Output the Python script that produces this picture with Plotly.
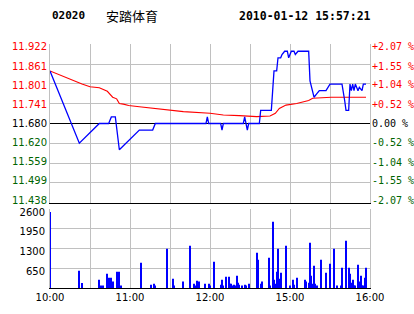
import plotly.graph_objects as go

# ---------------- data ----------------
stock_code = "02020"
stock_name = "安踏体育"
stamp = "2010-01-12 15:57:21"
prev_close = 11.68

price_ticks = [11.438, 11.499, 11.559, 11.620, 11.680, 11.741, 11.801, 11.861, 11.922]
pct_ticks = [-2.07, -1.55, -1.04, -0.52, 0.00, 0.52, 1.04, 1.55, 2.07]
vol_ticks = [650, 1300, 1950, 2600]
hour_labels = ["10:00", "11:00", "12:00", "15:00", "16:00"]

price_times = ["10:00", "10:22", "10:37", "10:44", "10:46", "10:49", "10:52", "11:07", "11:17", "11:19",
               "11:57", "11:58", "11:59", "12:08", "12:09", "12:10", "12:25", "12:26", "12:27", "12:28",
               "12:29", "14:37", "14:38", "14:46", "14:47", "14:48", "14:50", "14:51", "14:53", "14:54",
               "14:56", "14:58", "14:59", "15:01", "15:03", "15:04", "15:06", "15:14", "15:15", "15:18",
               "15:20", "15:22", "15:27", "15:30", "15:39", "15:40", "15:41", "15:42", "15:44", "15:45",
               "15:46", "15:47", "15:48", "15:49", "15:51", "15:52", "15:54", "15:55", "15:57"]
price_vals = [11.84, 11.62, 11.68, 11.68, 11.70, 11.70, 11.60, 11.66, 11.66, 11.68,
              11.68, 11.70, 11.68, 11.68, 11.66, 11.68, 11.68, 11.70, 11.68, 11.66,
              11.68, 11.68, 11.72, 11.72, 11.78, 11.84, 11.84, 11.88, 11.88, 11.89,
              11.90, 11.90, 11.88, 11.90, 11.90, 11.89, 11.90, 11.90, 11.81, 11.76,
              11.77, 11.78, 11.78, 11.80, 11.80, 11.78, 11.75, 11.72, 11.72, 11.80,
              11.78, 11.80, 11.78, 11.80, 11.78, 11.79, 11.78, 11.80, 11.80]

avg_times = ["10:00", "10:20", "10:24", "10:30", "10:37", "10:43", "10:47", "10:50", "10:52", "10:55",
             "10:59", "11:07", "11:20", "11:26", "11:40", "12:00", "12:10", "12:22", "14:35", "14:45",
             "14:49", "14:52", "14:57", "15:05", "15:11", "15:14", "15:17", "15:31", "15:57"]
avg_vals = [11.840, 11.806, 11.800, 11.792, 11.789, 11.778, 11.760, 11.755, 11.741, 11.739,
            11.735, 11.731, 11.725, 11.721, 11.716, 11.711, 11.706, 11.704, 11.701, 11.703,
            11.711, 11.726, 11.736, 11.741, 11.746, 11.750, 11.757, 11.760, 11.760]

vol_times = ["10:00", "10:22", "10:24", "10:37", "10:38", "10:40", "10:43", "10:44", "10:46", "10:47",
             "10:50", "10:51", "10:52", "10:53", "11:08", "11:16", "11:18", "11:19", "11:28", "11:32",
             "11:33", "11:40", "11:45", "11:48", "11:49", "11:50", "11:51", "11:52", "11:56", "11:59",
             "12:00", "12:03", "12:08", "12:09", "12:10", "12:12", "12:14", "12:15", "12:16", "12:17",
             "12:18", "12:19", "12:20", "12:21", "12:22", "12:24", "12:26", "12:27", "12:29",
             "14:35", "14:36", "14:38", "14:39", "14:44", "14:45", "14:47", "14:48", "14:49", "14:50",
             "14:51", "14:52", "14:53", "14:57", "15:00", "15:02", "15:03", "15:05", "15:11", "15:12",
             "15:14", "15:15", "15:16", "15:17", "15:18", "15:19", "15:20", "15:23", "15:27", "15:30",
             "15:33", "15:35", "15:38", "15:39", "15:42", "15:44", "15:45", "15:46", "15:47", "15:48",
             "15:49", "15:51", "15:52", "15:53", "15:54", "15:55", "15:56", "15:57"]
vol_vals = [2500, 570, 165, 273, 86, 86, 470, 340, 340, 210,
            537, 273, 537, 86, 833, 109, 140, 86, 1293, 306,
            86, 210, 1392, 140, 86, 240, 86, 210, 140, 140,
            86, 865, 109, 273, 86, 372, 372, 140, 140, 86,
            109, 86, 405, 175, 109, 86, 109, 86, 140,
            1162, 931, 140, 210, 997, 86, 2181, 273, 140, 537,
            1293, 306, 504, 1392, 86, 273, 109, 340, 273, 210,
            175, 1491, 405, 140, 734, 140, 86, 931, 504, 800,
            1293, 86, 86, 668, 1557, 668, 470, 175, 273, 86,
            86, 767, 210, 405, 86, 86, 340, 668]


def to_idx(t):
    h, m = map(int, t.split(":"))
    mins = h * 60 + m
    if mins <= 12 * 60 + 30:
        return mins - 600
    return mins - (14 * 60 + 30) + 150


def to_pct(p):
    return (p - prev_close) / prev_close * 100


px = [to_idx(t) for t in price_times]
ax_ = [to_idx(t) for t in avg_times]
vx = [to_idx(t) for t in vol_times]
price_pct = [to_pct(v) for v in price_vals]
avg_pct = [to_pct(v) for v in avg_vals]

RED = "#FF0000"
GREEN = "#006400"
GRID = "#C0C0C0"
W, H = 414, 314
SPREAD = 1.035   # labels sit slightly inside the end grid lines, as in the original


def lab_color(v):
    if abs(v) < 1e-9:
        return "#000000"
    return RED if v > 0 else GREEN


left_text = ['<span style="color:%s">%.3f</span>' % (lab_color(v - prev_close), v) for v in price_ticks]
right_text = []
for p in pct_ticks:
    if abs(p) < 1e-9:
        s = "0.00 %"
    elif p > 0:
        s = "+%.2f %%" % p
    else:
        s = "-%.2f %%" % abs(p)
    right_text.append('<span style="color:%s">%s</span>' % (lab_color(p), s))

grid_x = list(range(0, 241, 30))
grid_text = [hour_labels[g // 60] if g % 60 == 0 else "" for g in grid_x]

pct_lo, pct_hi = to_pct(price_ticks[0]), to_pct(price_ticks[-1])
grid_pct = [to_pct(v) for v in price_ticks]
half_p = (price_ticks[-1] - prev_close) * SPREAD
half_q = pct_hi * SPREAD

fig = go.Figure()
fig.add_trace(go.Bar(x=vx, y=vol_vals, width=0.8, marker=dict(color="#0000FF", line=dict(width=0)),
                     xaxis="x2", yaxis="y3", hoverinfo="skip"))
fig.add_trace(go.Scatter(x=ax_, y=avg_pct, mode="lines", line=dict(color=RED, width=1.1),
                         xaxis="x", yaxis="y", hoverinfo="skip"))
fig.add_trace(go.Scatter(x=px, y=price_pct, mode="lines", line=dict(color="#0000FF", width=1.3),
                         xaxis="x", yaxis="y", hoverinfo="skip"))
# empty carriers so the two label axes get drawn
fig.add_trace(go.Scatter(x=[], y=[], xaxis="x", yaxis="y2", hoverinfo="skip"))
fig.add_trace(go.Scatter(x=[], y=[], xaxis="x", yaxis="y4", hoverinfo="skip"))

x0, x1 = 50 / W, 370 / W
pdom = [1 - 203 / H, 1 - 44 / H]
fig.update_layout(
    width=W, height=H, margin=dict(l=0, r=0, t=0, b=0, autoexpand=False),
    paper_bgcolor="white", plot_bgcolor="white", showlegend=False,
    xaxis=dict(domain=[x0, x1], range=[0, 240], tickvals=grid_x, showticklabels=False,
               showgrid=True, gridcolor=GRID, gridwidth=1, zeroline=False, automargin=False,
               showline=True, linecolor="black", linewidth=1, anchor="y"),
    yaxis=dict(domain=pdom, range=[pct_lo, pct_hi], tickvals=grid_pct, showticklabels=False,
               showgrid=True, gridcolor=GRID, zeroline=True, zerolinecolor="black", zerolinewidth=1,
               showline=True, linecolor=GRID, mirror=True, ticks="", automargin=False),
    yaxis2=dict(overlaying="y", side="left", anchor="x", range=[prev_close - half_p, prev_close + half_p],
                tickvals=price_ticks, ticktext=left_text, showgrid=False, zeroline=False,
                showline=False, ticks="", automargin=False, ticklabelstandoff=2,
                tickfont=dict(family="DejaVu Sans", size=10)),
    yaxis4=dict(overlaying="y", side="right", anchor="x", range=[-half_q, half_q],
                tickvals=pct_ticks, ticktext=right_text, showgrid=False, zeroline=False,
                showline=False, ticks="", automargin=False, ticklabelstandoff=1,
                tickfont=dict(family="DejaVu Sans Mono", size=10)),
    xaxis2=dict(domain=[x0, x1], range=[0, 240], tickvals=grid_x, ticktext=grid_text,
                showgrid=True, gridcolor=GRID, zeroline=False, showline=True, linecolor="black",
                anchor="y3", ticks="", automargin=False,
                tickfont=dict(family="DejaVu Sans", size=10, color="black")),
    yaxis3=dict(domain=[1 - 288 / H, 1 - 209 / H], range=[0, vol_ticks[-1]], tickvals=vol_ticks,
                showgrid=True, gridcolor=GRID, zeroline=False, showline=True, linecolor=GRID,
                mirror=True, anchor="x2", ticks="", ticklabelstandoff=2, ticklabelshift=3,
                automargin=False, tickfont=dict(family="DejaVu Sans", size=10, color="black")),
    annotations=[
        dict(text="<b>%s</b>" % stock_code, x=50 / W, y=1 - 16 / H, xref="paper", yref="paper",
             xanchor="left", yanchor="middle", showarrow=False,
             font=dict(family="DejaVu Sans Mono", size=11, color="black")),
        dict(text=stock_name, x=104 / W, y=1 - 16 / H, xref="paper", yref="paper",
             xanchor="left", yanchor="middle", showarrow=False,
             font=dict(family="Noto Sans CJK SC", size=13, color="black")),
        dict(text="<b>%s</b>" % stamp, x=237 / W, y=1 - 16 / H, xref="paper", yref="paper",
             xanchor="left", yanchor="middle", showarrow=False,
             font=dict(family="DejaVu Sans Mono", size=11.5, color="black")),
    ],
)
fig.write_html("out.html")
